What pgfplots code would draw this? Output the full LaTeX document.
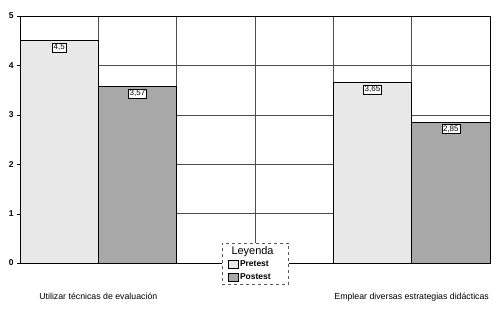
\documentclass[border=0pt]{standalone}
\usepackage{pgfplots}
\pgfplotsset{compat=1.18}
\usepackage{fontspec}
\setmainfont{Liberation Sans}
\begin{document}
\begin{tikzpicture}
\begin{axis}[
  name=ax,
  scale only axis,
  width=470bp, height=247bp,
  xmin=0, xmax=6, ymin=0, ymax=5,
  ytick={0,1,2,3,4,5},
  ytick pos=left,
  xtick={1,2,3,4,5},
  xticklabels={Utilizar técnicas de evaluación,,,,Emplear diversas estrategias didácticas},
  xmajorgrids, ymajorgrids,
  grid style={gray!60!black, line width=0.6pt},
  axis line style={black, line width=0.6pt},
  tick style={black},
  tick align=outside,
  major tick length=3pt,
  xtick style={draw=none},
  xticklabel style={font=\fontsize{8.8}{10}\selectfont, yshift=-24bp},
  yticklabel style={font=\bfseries\fontsize{8.5}{10}\selectfont},
  /pgf/number format/assume math mode=true,
  ybar, bar width=1,
  nodes near coords,
  nodes near coords style={/pgf/number format/use comma, /pgf/number format/fixed, /pgf/number format/precision=2},
  every node near coord/.append style={anchor=north, yshift=-2pt, draw=black, fill=white, inner sep=1.3pt, font=\fontsize{8}{9}\selectfont, text=black},
  legend style={at={(axis cs:2.58,0.41)}, anchor=north west, draw=gray!70!black, dashed, fill=white,
     font=\fontsize{8.5}{10}\selectfont, row sep=2bp, inner xsep=3bp, inner ysep=2bp,
     nodes={inner sep=1.5bp}},
  legend image code/.code={\draw[#1, solid] (3bp,-4bp) rectangle (13bp,4bp);},
  legend cell align=left,
  clip=false,
]
\addlegendimage{empty legend}
\addlegendentry{\hspace*{-19bp}\makebox[63bp][c]{\fontsize{11}{12}\selectfont Leyenda\rule[-13bp]{0pt}{12bp}}}
\addplot[bar shift=0pt, fill=gray!18, draw=black, solid, line width=0.5pt] coordinates {(0.5,4.5) (4.5,3.65)};
\addlegendentry{\makebox[44bp][l]{\bfseries Pretest\rule[-3bp]{0pt}{9bp}}}
\addplot[bar shift=0pt, fill=gray!68, draw=black, solid, line width=0.5pt] coordinates {(1.5,3.57) (5.5,2.85)};
\addlegendentry{\makebox[44bp][l]{\bfseries Postest\rule[-3bp]{0pt}{9bp}}}
\end{axis}
\path[use as bounding box] ([shift={(-20bp,-46bp)}]ax.south west) rectangle ([shift={(477bp,263bp)}]ax.south west);
\end{tikzpicture}
\end{document}
